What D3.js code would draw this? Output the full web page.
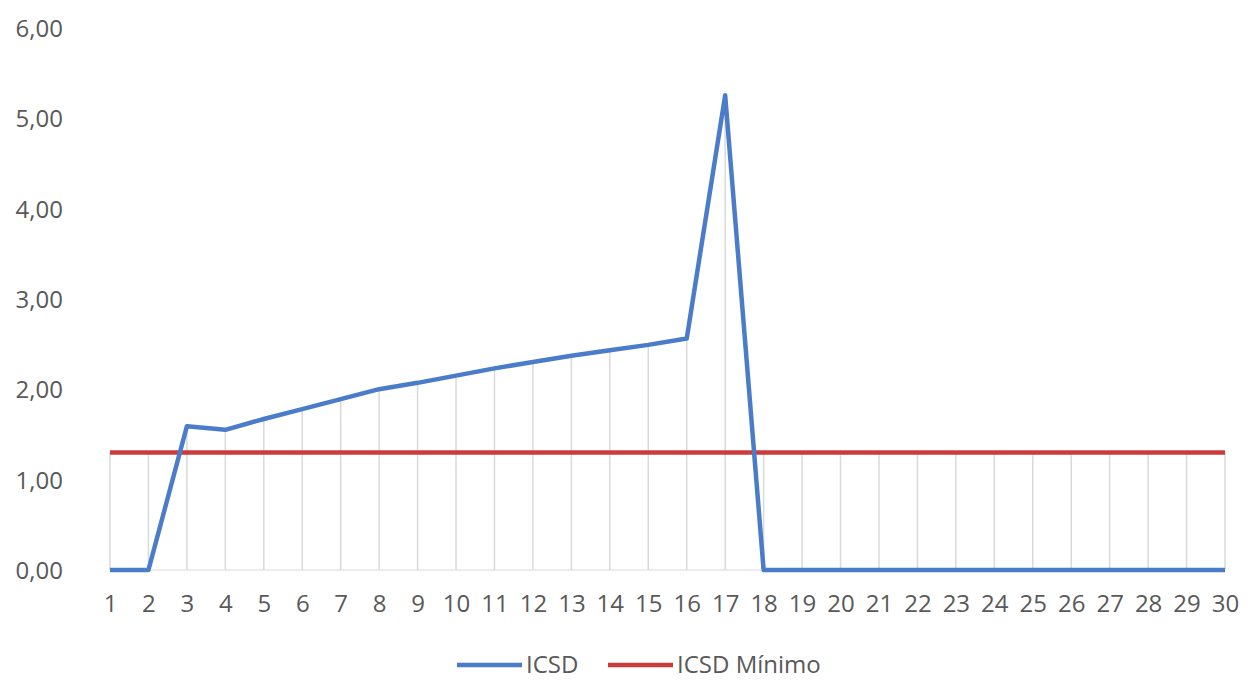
<!DOCTYPE html>
<html>
<head>
<meta charset="utf-8">
<script src="https://cdn.jsdelivr.net/npm/d3@7"></script>
<style>
  html, body { margin: 0; padding: 0; background: #fff; }
  svg { display: block; }
  text { font-family: "Open Sans", "Liberation Sans", sans-serif; fill: #595959; }
</style>
</head>
<body>
<svg id="chart" width="1252" height="680"></svg>
<script>
// Categories on the x axis (days 1..30)
const categories = d3.range(1, 31).map(String);

// ICSD index per category
const icsd = [0, 0, 1.59, 1.55, 1.67, 1.78, 1.89, 2.00, 2.07, 2.15,
              2.23, 2.30, 2.37, 2.43, 2.49, 2.56, 5.25, 0, 0, 0,
              0, 0, 0, 0, 0, 0, 0, 0, 0, 0];

// Minimum ICSD reference (constant)
const icsdMin = categories.map(() => 1.30);

// Y axis ticks
const yTicks = [0, 1, 2, 3, 4, 5, 6];

const seriesNames = ["ICSD", "ICSD Mínimo"];
const seriesColors = ["#4a7cc9", "#cc3b3b"];

const svg = d3.select("#chart");

const x = d3.scalePoint().domain(categories).range([110, 1225]);
const y = d3.scaleLinear().domain([0, 6]).range([570, 27.5]);

const fmt = v => d3.format(".2f")(v).replace(".", ",");

// Y axis labels
const yAxis = d3.axisLeft(y).tickValues(yTicks).tickFormat(fmt).tickSize(0).tickPadding(0);
const gy = svg.append("g").attr("transform", "translate(63,1)").call(yAxis);
gy.select(".domain").remove();
gy.selectAll("text").attr("font-size", 24).attr("fill", "#595959")
  .attr("font-family", "'Open Sans', sans-serif");

// X axis labels
const xAxis = d3.axisBottom(x).tickSize(0).tickPadding(0);
const gx = svg.append("g").attr("transform", "translate(0,595)").call(xAxis);
gx.select(".domain").remove();
gx.selectAll("text").attr("font-size", 24).attr("fill", "#595959")
  .attr("font-family", "'Open Sans', sans-serif");

// Baseline
svg.append("line")
  .attr("x1", x(categories[0])).attr("x2", x(categories[categories.length - 1]))
  .attr("y1", y(0)).attr("y2", y(0))
  .attr("stroke", "#d9d9d9").attr("stroke-width", 1);

// Drop lines from the highest series to the axis
svg.append("g").selectAll("line")
  .data(categories)
  .join("line")
  .attr("x1", d => x(d)).attr("x2", d => x(d))
  .attr("y1", (d, i) => y(Math.max(icsd[i], icsdMin[i])))
  .attr("y2", y(0))
  .attr("stroke", "#d9d9d9").attr("stroke-width", 1.5);

const line = d3.line()
  .x((d, i) => x(categories[i]))
  .y(d => y(d));

// Series lines: minimum first, ICSD on top
[[icsdMin, seriesColors[1]], [icsd, seriesColors[0]]].forEach(([vals, color]) => {
  svg.append("path")
    .datum(vals)
    .attr("d", line)
    .attr("fill", "none")
    .attr("stroke", color)
    .attr("stroke-width", 4.5)
    .attr("stroke-linejoin", "round");
});

// Legend
const legendItems = [
  { name: seriesNames[0], color: seriesColors[0], x0: 457 },
  { name: seriesNames[1], color: seriesColors[1], x0: 608 }
];
const lg = svg.append("g");
legendItems.forEach(it => {
  lg.append("line")
    .attr("x1", it.x0).attr("x2", it.x0 + 65)
    .attr("y1", 665).attr("y2", 665)
    .attr("stroke", it.color).attr("stroke-width", 4.5);
  lg.append("text")
    .attr("x", it.x0 + 69).attr("y", 665)
    .attr("dy", "0.35em")
    .attr("font-size", 24)
    .text(it.name);
});
</script>
</body>
</html>
